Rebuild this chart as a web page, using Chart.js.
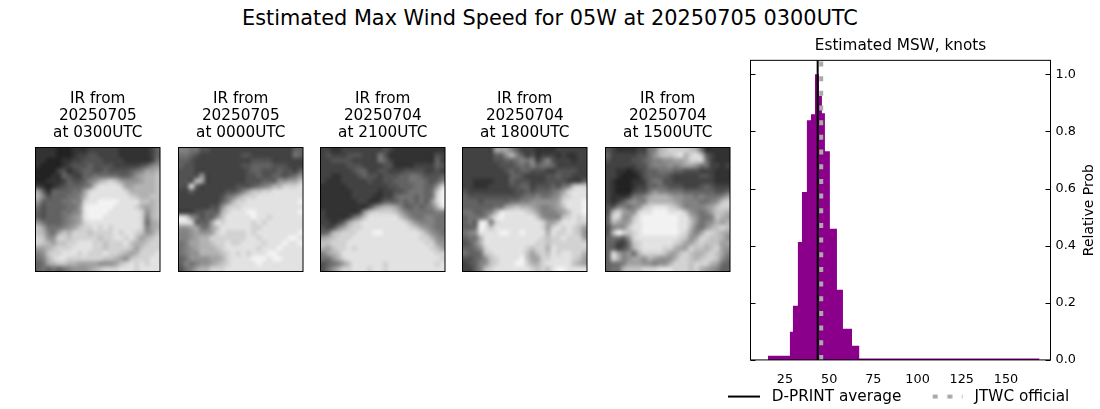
<!DOCTYPE html>
<html><head><meta charset="utf-8">
<script src="https://cdn.jsdelivr.net/npm/chart.js@4"></script>
<style>
html,body{margin:0;padding:0;background:#fff;width:1100px;height:409px;overflow:hidden}
canvas{position:absolute;display:block}
#sup{position:absolute;left:0;top:6px;width:1100px;text-align:center;font:20.83px/24px "DejaVu Sans";color:#000}
</style></head><body>
<div id="sup">Estimated Max Wind Speed for 05W at 20250705 0300UTC</div>
<canvas id="main" width="610" height="416" style="left:590px;top:0;width:610px;height:416px"></canvas>
<script>
const FONT = 'DejaVu Sans';
const binEdges = [15.4,27.8,29.5,32.3,34.6,37.4,39.7,42,44.2,45.9,47.6,50.4,54.4,57.8,62.9,67,169];
const binProb  = [0.015,0.099,0.19,0.413,0.588,0.839,0.86,1.0,0.925,0.864,0.731,0.459,0.246,0.109,0.05,0.005];
const dprintAverage = 43.5;
const jtwcOfficial = 45.5;
const xTickValues = [25,50,75,100,125,150];
const yTickValues = [0,0.2,0.4,0.6,0.8,1.0];
const legendLabels = ['D-PRINT average','JTWC official'];
const panelTitles = [
  ['IR from','20250705','at 0300UTC'],
  ['IR from','20250705','at 0000UTC'],
  ['IR from','20250704','at 2100UTC'],
  ['IR from','20250704','at 1800UTC'],
  ['IR from','20250704','at 1500UTC']];
const panelLeft = [35.5,178.5,320.5,462.5,605.5];
const ir0300 = [
'2222 1112 2233 3333 2222 2235','2222 1112 3344 3333 2222 2235','2211 1223 3444 4333 3222 2236','2111 1234 4454 4443 3333 4578',
'1111 3423 4554 4544 4456 799a','1112 2543 3556 6666 5568 9aab','1122 2354 4578 abcb 9888 9aab','3212 3455 567b dddd c99a aaab',
'9525 5556 69cd dddd dcaa aaab','a745 5566 7add dddd ddcb aabb','8555 5667 7cdd eeee dddd bbab','6455 5566 8dee eeed dddc a9ab',
'5455 5667 8dee eedd dddd c8ab','5455 5678 9dee eddd dddd c7ab','8655 5678 9cdd dddd dddd c69a','b966 6789 bccd cdcd dddd c79a',
'ba76 9bac ccbc cccd cddc b89b','cb88 ccbc cccc bccd dcdb 9abc','cba9 bbcc dddc cbcc cdba abcc','99ab cccd dddc cbcc ccb9 bccc',
'78bc cddd cdcc cdcc ba9a cccd','67ac ddcc cccc cbba 98bc ccdd','569a bbaa 9999 8889 bcdc dcdd','5656 5678 889a bccc dddc dddd'];
const ir0000 = [
'7766 4433 3333 3333 3333 3355','6654 3333 3333 4433 3333 3365','5543 3333 3333 3344 4433 3333','5443 3333 3333 4455 5544 4333',
'4443 3333 3333 3455 4445 4435','4444 8333 3333 3445 4455 4568','444a 9333 3333 3444 5558 899b','44c5 3333 3334 4456 78aa cccd',
'3353 3333 3445 79bb ccdd dddd','3333 3333 4679 bccd dddd dddd','3333 3333 57ac cddd dddd ddde','3333 3344 8bcc dddd dddd dddd',
'3334 4555 acdd deed dddd ddde','dc86 4558 bddd dded dcdd dddd','ddc5 559d cddd ddcd cddd dddd','8899 669b dddd ddcc dddd dddd',
'7789 889c dccc cdcd dddd ddde','7789 aacc cccc cddc dddd deed','6799 aabc cdcc dddd cddd edde','6789 aaab cddd dddc ddde dddd',
'6788 aaaa bcdc dcdd deed dddd','5688 8899 acdd ddee edee dddd','5767 889a bcdd ddde dddd dddd','4679 aacc cddd dddd dddd dddd'];
const ir2100 = [
'3322 3333 3333 4322 2222 2222','3433 3444 3336 4222 2222 2243','3344 4433 3336 5322 2222 2253','3333 3444 3333 4422 2233 3354',
'3333 3345 5334 4333 4444 3343','3322 3334 5443 4445 5665 4445','3222 3333 3433 4455 5666 5457','2222 2333 3333 3445 5566 558c',
'2222 2233 3332 3344 5666 56be','2222 2233 3322 3356 6656 56ce','2222 2223 3223 5556 5656 58ce','2222 2222 2479 aa97 5565 67ad',
'3222 2223 8bcc ccb9 7666 6677','3222 2368 bddd dddb 9766 7766','3323 59bc dddd dddd ca87 7766','4347 9bcc dddd dddd dcb9 8766',
'56ab cccd ddee dddd dddc a876','9abc ccdd dddd dddd dddc ca87','bbcc cddd dddd dddd dddd cc98','a9bc cdcd dddd dddd dddd dcb9',
'79ab dddd dddd dddd dddd ddcc','668a cddd dddd dddd dddd dddc','4567 9bdd dddd cddd dddd ddcd','468a ccdd dcdd cddd dddd dddd'];
const ir1800 = [
'3333 3399 9753 3322 2233 3333','3333 3355 8a75 3423 3323 2233','3333 3344 5567 6735 7433 3233','3333 3334 4456 5756 6533 3333',
'3333 3333 4545 5444 3344 4433','3333 3333 3554 3333 4454 4333','3322 2233 3544 4333 4444 3335','3322 2333 3445 5344 4546 7bcc',
'4333 3333 3344 5455 5679 cddd','5444 4444 4445 6676 678b cddd','5554 5555 5667 7888 889c ddde','5555 5566 9aba a987 789b ddde',
'6655 67ad dddd cb97 7789 bdde','5666 7ade dddd ddb8 777b cdcd','565d d7cd dddd dddc 99bd ddcc','556e dbdd dddd dddc 9cdc dcb9',
'678d ddde edde dddd adcc dcb8','566a dddd dddd dddc bccd ccc9','457a dddd dddd ddcc bccc cccc','5568 cddd dddd cbcc adcc cccc',
'6556 bcdd dddd b9bc bdcd dcca','4456 8bcd ddde b99c cddd dcb9','3457 8bcd ddee caac dddd dba9','3357 bcdd dddd dcbc bdee dddd'];
const ir1500 = [
'4322 2233 67ab cccc ba62 2222','5333 3344 68ab bcda cdb5 3222','4333 3445 6778 899a ccc6 3222','3333 3344 6777 8789 9866 3323',
'3322 1234 5566 6554 4433 3222','3321 1124 5555 4333 3344 3222','3211 1223 5664 4333 3333 3222','3211 1233 5565 4443 3345 4333',
'3211 1344 6877 6665 5555 5445','3222 3667 9aaa 9887 7676 6679','3235 7877 aaaa a987 7766 78bc','4477 678b cddd cb97 7778 9bcc',
'4ac9 88cd deee dddb 8767 9bba','5cc8 8bde eeee eedd a866 7ba9','5a98 9cde eeee eedd b867 8a9a','4788 bdde eeee eedd a768 abcb',
'4aec bcde eeee eedc 979c cba9','5665 8cdd dddd ddcb 89cc bba8','5533 6bcd dddd dcb9 9bcb bb99','5534 6acd dddc ca99 cbba bc98',
'5c97 86ac cccb 99bc baab cb97','5ca7 8998 a988 8acc babc cb86','5667 9998 8788 accc bccc a965','566a bbbc ccdd dccc bca9 8755'];
const panelImages = [ir0300,ir0000,ir2100,ir1800,ir1500];

Chart.defaults.color = '#000';
Chart.defaults.font.family = FONT;
Chart.defaults.font.size = 14;
Chart.defaults.animation = false;

function grayCanvas(rows){
  const c = document.createElement('canvas');
  c.width = 24; c.height = 24;
  const g = c.getContext('2d');
  rows.forEach((r,j)=>{ [...r.replace(/ /g,'')].forEach((ch,i)=>{
    const v = Math.round(18 + 16*parseInt(ch,16));
    g.fillStyle = `rgb(${v},${v},${v})`;
    g.fillRect(i,j,1,1);
  });});
  return c;
}
const imagePlugin = {
  id:'irImage',
  beforeDatasetsDraw(chart,args,opts){
    const {x,y} = chart.scales, ctx = chart.ctx;
    const L=x.getPixelForValue(0),R=x.getPixelForValue(24),T=y.getPixelForValue(0),B=y.getPixelForValue(24);
    ctx.save();
    ctx.imageSmoothingEnabled = true; ctx.imageSmoothingQuality='high';
    ctx.drawImage(opts.image,L,T,R-L,B-T);
    ctx.strokeStyle='#000'; ctx.lineWidth=1;
    ctx.strokeRect(L,T,R-L,B-T);
    ctx.restore();
  }
};
panelImages.forEach((rows,i)=>{
  const cv = document.createElement('canvas');
  const left = Math.floor(panelLeft[i]) - 10;
  cv.width = 145; cv.height = 191;
  cv.style.cssText = `left:${left}px;top:85px;width:145px;height:191px`;
  document.body.appendChild(cv);
  new Chart(cv,{
    type:'scatter',
    data:{datasets:[{data:[],showLine:false}]},
    plugins:[imagePlugin],
    options:{
      responsive:false,
      layout:{padding:{left:panelLeft[i]-left,right:145-(panelLeft[i]-left)-124.5,bottom:4.5,top:0}},
      scales:{x:{display:false,min:0,max:24},y:{display:false,min:0,max:24,reverse:true}},
      plugins:{
        legend:{display:false},tooltip:{enabled:false},
        irImage:{image:grayCanvas(rows)},
        title:{display:true,text:panelTitles[i],font:{size:15.28,weight:'normal',lineHeight:1.1},color:'#000',padding:{top:6,bottom:6.1}}
      }
    }
  });
});

const OX = 590;
function legendKey(kind){
  const c = document.createElement('canvas');
  c.width = 36; c.height = 10;
  const g = c.getContext('2d');
  if(kind===0){ g.fillStyle='#000'; g.fillRect(0,4,32,2); }
  else { g.fillStyle='#aaa'; [2,16.67,31.3].forEach(x=>g.fillRect(x,3,Math.min(5,32-x),4)); }
  return c;
}
const framePlugin = {
  id:'frame',
  afterLayout(chart){
    const x = chart.scales.x;
    x.bottom = x.top + 30;
  },
  afterDraw(chart){
    const a = chart.chartArea, ctx = chart.ctx, y = chart.scales.y;
    ctx.save();
    ctx.strokeStyle='#000'; ctx.lineWidth=1;
    ctx.strokeRect(a.left,a.top,a.right-a.left,a.bottom-a.top);
    yTickValues.forEach(v=>{
      const p = Math.round(y.getPixelForValue(v))+0.5;
      ctx.beginPath();
      ctx.moveTo(a.left,p); ctx.lineTo(a.left+5,p);
      ctx.moveTo(a.right,p); ctx.lineTo(a.right-5,p);
      ctx.stroke();
    });
    ctx.translate(1089-OX,(a.top+a.bottom)/2);
    ctx.rotate(-Math.PI/2);
    ctx.fillStyle='#000'; ctx.textAlign='center'; ctx.textBaseline='middle';
    ctx.font = `14px "${FONT}"`;
    ctx.fillText('Relative Prob',0,0);
    ctx.restore();
  }
};
new Chart(document.getElementById('main'),{
  type:'scatter',
  data:{datasets:[
    {label:'hist',order:3,xAxisID:'x',yAxisID:'y',showLine:true,stepped:true,fill:'origin',backgroundColor:'#8b008b',borderWidth:0,pointRadius:0,
     data:binEdges.map((e,i)=>({x:e,y:binProb[Math.min(i,binProb.length-1)]}))},
    {label:legendLabels[0],order:1,xAxisID:'x',yAxisID:'y',showLine:true,borderColor:'#000',borderWidth:2,pointRadius:0,
     data:[{x:dprintAverage,y:0},{x:dprintAverage,y:1.049}]},
    {label:legendLabels[1],order:2,xAxisID:'x',yAxisID:'y',showLine:true,borderColor:'#aaa',borderWidth:4,borderDash:[5,9.67],pointRadius:0,
     data:[{x:jtwcOfficial,y:0},{x:jtwcOfficial,y:1.049}]}
  ]},
  plugins:[framePlugin],
  options:{
    responsive:false,
    layout:{padding:{left:7,right:0,top:37,bottom:1.8}},
    scales:{
      pad:{type:'linear',position:'left',display:true,ticks:{display:false},grid:{display:false},border:{display:false},afterFit(s){s.width=153.5;}},
      x:{type:'linear',min:5.5,max:175.2,
        grid:{display:false,drawTicks:false},border:{display:false},
        afterBuildTicks(s){s.ticks=xTickValues.map(v=>({value:v}));},
        afterFit(s){s.height=0;},
        ticks:{autoSkip:false,maxRotation:0,padding:12,callback:v=>String(v),color:'#000',font:{size:12.8}}},
      y:{type:'linear',position:'right',min:0,max:1.049,
        grid:{display:false,drawTicks:false},border:{display:false},
        afterBuildTicks(s){s.ticks=yTickValues.map(v=>({value:v}));},
        afterFit(s){s.width=149.5;},
        ticks:{autoSkip:false,padding:5,callback:v=>v.toFixed(1),color:'#000',font:{size:12.8}}}
    },
    plugins:{
      tooltip:{enabled:false},
      title:{display:true,text:'Estimated MSW, knots',fullSize:false,font:{size:15.28,weight:'normal',lineHeight:1.2},color:'#000',padding:{top:0,bottom:5}},
      legend:{display:true,position:'bottom',onClick:null,
        labels:{usePointStyle:true,pointStyleWidth:36.4,boxHeight:10,padding:29,color:'#000',font:{size:15.28,lineHeight:0.95},
          generateLabels(){return legendLabels.map((t,i)=>({text:t,pointStyle:legendKey(i),fillStyle:'#000',strokeStyle:'#000',lineWidth:0,datasetIndex:i+1}));}
        }}
    }
  }
});
</script>
</body></html>
